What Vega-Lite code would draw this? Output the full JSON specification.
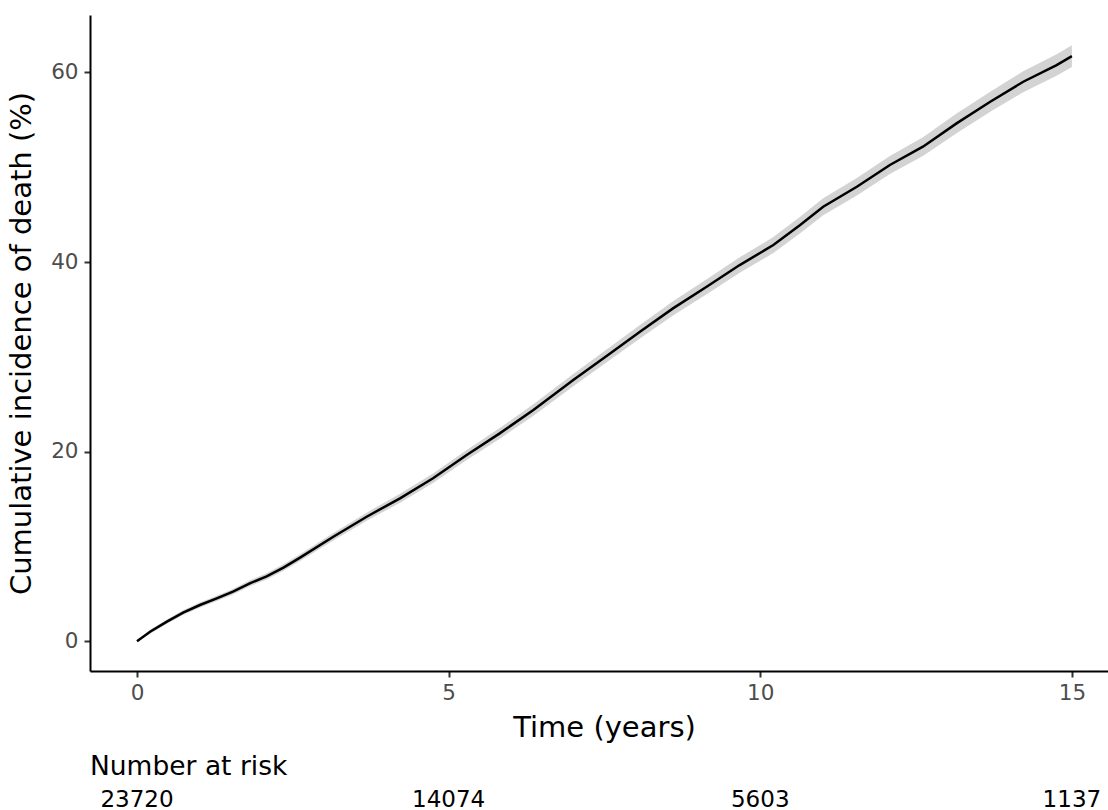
{
  "$schema": "https://vega.github.io/schema/vega-lite/v6.json",
  "autosize": {"type": "pad"},
  "padding": {"left": 7, "top": 15, "right": 0, "bottom": 0},
  "background": "white",
  "config": {
    "font": "DejaVu Sans",
    "view": {"stroke": null},
    "concat": {"spacing": 10}
  },
  "datasets": {
    "curve": [
      {"t": 0, "y": 0, "lo": 0, "hi": 0},
      {"t": 0.21, "y": 1.01, "lo": 0.8, "hi": 1.22},
      {"t": 0.48, "y": 2.07, "lo": 1.84, "hi": 2.3},
      {"t": 0.74, "y": 3.02, "lo": 2.77, "hi": 3.27},
      {"t": 1.01, "y": 3.83, "lo": 3.57, "hi": 4.09},
      {"t": 1.28, "y": 4.53, "lo": 4.25, "hi": 4.81},
      {"t": 1.54, "y": 5.23, "lo": 4.93, "hi": 5.53},
      {"t": 1.81, "y": 6.12, "lo": 5.81, "hi": 6.43},
      {"t": 2.08, "y": 6.85, "lo": 6.52, "hi": 7.18},
      {"t": 2.35, "y": 7.78, "lo": 7.43, "hi": 8.13},
      {"t": 2.61, "y": 8.8, "lo": 8.44, "hi": 9.16},
      {"t": 3.15, "y": 11.03, "lo": 10.63, "hi": 11.43},
      {"t": 3.685, "y": 13.14, "lo": 12.71, "hi": 13.57},
      {"t": 4.22, "y": 15.08, "lo": 14.61, "hi": 15.55},
      {"t": 4.75, "y": 17.19, "lo": 16.69, "hi": 17.69},
      {"t": 5.29, "y": 19.65, "lo": 19.12, "hi": 20.18},
      {"t": 5.82, "y": 21.93, "lo": 21.36, "hi": 22.5},
      {"t": 6.36, "y": 24.4, "lo": 23.8, "hi": 25.0},
      {"t": 7.0, "y": 27.55, "lo": 26.91, "hi": 28.19},
      {"t": 7.535, "y": 30.1, "lo": 29.43, "hi": 30.77},
      {"t": 8.07, "y": 32.65, "lo": 31.94, "hi": 33.36},
      {"t": 8.6, "y": 35.11, "lo": 34.37, "hi": 35.85},
      {"t": 9.14, "y": 37.39, "lo": 36.61, "hi": 38.17},
      {"t": 9.67, "y": 39.68, "lo": 38.87, "hi": 40.49},
      {"t": 10.21, "y": 41.79, "lo": 40.95, "hi": 42.63},
      {"t": 10.64, "y": 43.9, "lo": 43.03, "hi": 44.77},
      {"t": 11.01, "y": 45.83, "lo": 44.94, "hi": 46.72},
      {"t": 11.55, "y": 47.94, "lo": 47.01, "hi": 48.87},
      {"t": 12.08, "y": 50.23, "lo": 49.27, "hi": 51.19},
      {"t": 12.61, "y": 52.16, "lo": 51.17, "hi": 53.15},
      {"t": 13.15, "y": 54.62, "lo": 53.59, "hi": 55.65},
      {"t": 13.69, "y": 56.9, "lo": 55.84, "hi": 57.96},
      {"t": 14.22, "y": 59.01, "lo": 57.91, "hi": 60.11},
      {"t": 14.755, "y": 60.77, "lo": 59.64, "hi": 61.9},
      {"t": 15.0, "y": 61.72, "lo": 60.57, "hi": 62.87}
    ],
    "risk": [
      {"t": 0, "n": "23720"},
      {"t": 5, "n": "14074"},
      {"t": 10, "n": "5603"},
      {"t": 15, "n": "1137"}
    ]
  },
  "vconcat": [
    {
      "width": 1028,
      "height": 656,
      "data": {"name": "curve"},
      "encoding": {
        "x": {
          "field": "t", "type": "quantitative",
          "scale": {"domain": [-0.754, 15.74], "nice": false, "zero": false},
          "axis": {
            "title": "Time (years)", "values": [0, 5, 10, 15],
            "grid": false, "domainColor": "#000000", "domainWidth": 2,
            "tickColor": "#333333", "tickWidth": 2, "tickSize": 6,
            "labelFont": "DejaVu Sans", "labelFontSize": 21.5, "labelColor": "#4d4d4d", "labelPadding": 5,
            "titleFont": "DejaVu Sans", "titleFontSize": 29, "titleFontWeight": "normal", "titleColor": "#000000", "titlePadding": 10
          }
        }
      },
      "layer": [
        {
          "mark": {"type": "area", "color": "#d3d3d3", "opacity": 1},
          "encoding": {
            "y": {"field": "lo", "type": "quantitative"},
            "y2": {"field": "hi"}
          }
        },
        {
          "mark": {"type": "line", "color": "#000000", "strokeWidth": 2.5},
          "encoding": {
            "y": {
              "field": "y", "type": "quantitative",
              "scale": {"domain": [-3.13, 66.05], "nice": false, "zero": false},
              "axis": {
                "title": "Cumulative incidence of death (%)", "values": [0, 20, 40, 60],
                "grid": false, "domainColor": "#000000", "domainWidth": 2,
                "tickColor": "#333333", "tickWidth": 2, "tickSize": 6,
                "labelFont": "DejaVu Sans", "labelFontSize": 21.5, "labelColor": "#4d4d4d", "labelPadding": 6,
                "titleFont": "DejaVu Sans", "titleFontSize": 29, "titleFontWeight": "normal", "titleColor": "#000000", "titlePadding": 14
              }
            }
          }
        }
      ]
    },
    {
      "width": 1028,
      "height": 24,
      "data": {"name": "risk"},
      "title": {"text": "Number at risk", "anchor": "start", "fontSize": 26.5, "fontWeight": "normal", "font": "DejaVu Sans", "color": "#000000", "offset": 8},
      "mark": {"type": "text", "fontSize": 23, "font": "DejaVu Sans", "color": "#000000", "baseline": "middle"},
      "encoding": {
        "x": {
          "field": "t", "type": "quantitative",
          "scale": {"domain": [-0.754, 15.74], "nice": false, "zero": false},
          "axis": null
        },
        "text": {"field": "n"}
      }
    }
  ],
  "resolve": {"scale": {"x": "independent"}}
}
